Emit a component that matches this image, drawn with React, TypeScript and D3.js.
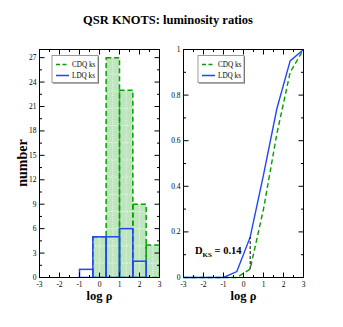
import React from "react";
import * as d3 from "d3";

const binEdges = [-3, -2.333, -1.667, -1, -0.333, 0.333, 1, 1.667, 2.333, 3];
const cdqCounts = [0, 0, 0, 0, 5, 27, 23, 9, 4];
const ldqCounts = [0, 0, 0, 1, 5, 5, 6, 2, 0];
const cdqCdf = [0, 0, 0, 0, 0, 0.037, 0.3, 0.63, 0.9, 1];
const ldqCdf = [0, 0, 0, 0, 0.026, 0.177, 0.45, 0.74, 0.95, 1];
const seriesNames = ["CDQ ks", "LDQ ks"];
const xTicks = [-3, -2, -1, 0, 1, 2, 3];
const countTicks = [0, 3, 6, 9, 12, 15, 18, 21, 24, 27];
const fracTicks = [0, 0.2, 0.4, 0.6, 0.8, 1];
// KS statistic as marked on the plot (x = 0.333)
const ksIndex = 5;
const ksLabel = "0.14";

const W = 343;
const H = 327;
const top = 49.5;
const bottom = 277.5;
const green = "#00a000";
const blue = "#2147f0";
const fillGreen = "#bfe5bf";
const serif = "'Liberation Serif', 'Times New Roman', serif";

type Panel = { x0: number; x1: number };
const leftP: Panel = { x0: 39.5, x1: 159.5 };
const rightP: Panel = { x0: 183.5, x1: 303.5 };

function Frame({ p, y, yTicks, yMinor, fmt }: any) {
  const x = d3.scaleLinear().domain([-3, 3]).range([p.x0, p.x1]);
  const xMinor = d3.range(-3, 3.01, 0.5);
  const els: any[] = [];
  xMinor.forEach((v, i) => {
    const major = Number.isInteger(v);
    const L = major ? 5 : 2.5;
    els.push(<line key={"xb" + i} x1={x(v)} x2={x(v)} y1={bottom} y2={bottom - L} stroke="#000" />);
    els.push(<line key={"xt" + i} x1={x(v)} x2={x(v)} y1={top} y2={top + L} stroke="#000" />);
  });
  yMinor.forEach((v: number, i: number) => {
    const major = yTicks.some((t: number) => Math.abs(t - v) < 1e-6);
    const L = major ? 5 : 2.5;
    els.push(<line key={"yl" + i} y1={y(v)} y2={y(v)} x1={p.x0} x2={p.x0 + L} stroke="#000" />);
    els.push(<line key={"yr" + i} y1={y(v)} y2={y(v)} x1={p.x1} x2={p.x1 - L} stroke="#000" />);
  });
  return (
    <g>
      <rect x={p.x0} y={top} width={p.x1 - p.x0} height={bottom - top} fill="none" stroke="#000" />
      {els}
      {xTicks.map((t) => (
        <text key={"xl" + t} x={x(t)} y={286.5} fontSize={7.5} fontFamily={serif} textAnchor="middle">
          {t}
        </text>
      ))}
      {yTicks.map((t: number) => (
        <text key={"ylab" + t} x={p.x0 - 3} y={y(t) + 2.5} fontSize={7.5} fontFamily={serif} textAnchor="end">
          {fmt(t)}
        </text>
      ))}
      <text x={(p.x0 + p.x1) / 2} y={300} fontSize={12.5} fontFamily={serif} fontWeight="bold" textAnchor="middle">
        log ρ
      </text>
    </g>
  );
}

function Legend({ x0, y0 }: { x0: number; y0: number }) {
  return (
    <g>
      <rect x={x0 + 1} y={y0 + 1} width={46} height={27} fill="#555" />
      <rect x={x0} y={y0} width={46} height={27} fill="#fff" stroke="#999" />
      <line x1={x0 + 4} x2={x0 + 17} y1={y0 + 9} y2={y0 + 9} stroke={green} strokeWidth={1.5} strokeDasharray="4,2.5" />
      <text x={x0 + 20} y={y0 + 11.5} fontSize={7.2} fontFamily={serif}>{seriesNames[0]}</text>
      <line x1={x0 + 4} x2={x0 + 17} y1={y0 + 20} y2={y0 + 20} stroke={blue} strokeWidth={1.5} />
      <text x={x0 + 20} y={y0 + 22.5} fontSize={7.2} fontFamily={serif}>{seriesNames[1]}</text>
    </g>
  );
}

export default function App() {
  const xL = d3.scaleLinear().domain([-3, 3]).range([leftP.x0, leftP.x1]);
  const xR = d3.scaleLinear().domain([-3, 3]).range([rightP.x0, rightP.x1]);
  const yC = d3.scaleLinear().domain([0, 28]).range([bottom, top]);
  const yF = d3.scaleLinear().domain([0, 1]).range([bottom, top]);

  const bins = cdqCounts.map((c, i) => ({ a: binEdges[i], b: binEdges[i + 1], c, l: ldqCounts[i] }));
  const patY = d3.range(bottom - 14.4, top, -17.2);

  const line = d3.line<[number, number]>().x((d) => xR(d[0])).y((d) => yF(d[1]));
  const cdqPts = binEdges.map((e, i) => [e, cdqCdf[i]] as [number, number]);
  const ldqPts = binEdges.map((e, i) => [e, ldqCdf[i]] as [number, number]);

  return (
    <svg width={W} height={H} style={{ position: "absolute", left: 0, top: 0, background: "#fff" }}>
      <text x={168} y={24} fontSize={12.5} fontFamily={serif} fontWeight="bold" textAnchor="middle">
        QSR KNOTS: luminosity ratios
      </text>
      <defs>
        <clipPath id="lclip">
          <rect x={leftP.x0} y={top} width={leftP.x1 - leftP.x0} height={bottom - top} />
        </clipPath>
      </defs>
      {/* histogram */}
      <g clipPath="url(#lclip)">
        {bins.filter((d) => d.c > 0).map((d, i) => (
          <g key={"f" + i}>
            <rect x={xL(d.a)} y={yC(d.c)} width={xL(d.b) - xL(d.a)} height={bottom - yC(d.c)} fill={fillGreen} />
            <line x1={(xL(d.a) + xL(d.b)) / 2} x2={(xL(d.a) + xL(d.b)) / 2} y1={yC(d.c)} y2={bottom} stroke="#fff" strokeWidth={0.8} strokeDasharray="1,1.5" />
            {patY.filter((py) => py > yC(d.c) + 1).map((py, j) => (
              <line key={j} x1={xL(d.a)} x2={xL(d.b)} y1={py} y2={py} stroke="#fff" strokeWidth={0.8} strokeDasharray="1,1.5" />
            ))}
          </g>
        ))}
        {bins.map((d, i) => (
          <rect key={"g" + i} x={xL(d.a)} y={yC(d.c)} width={xL(d.b) - xL(d.a)} height={bottom - yC(d.c)} fill="none" stroke={green} strokeWidth={1.5} strokeDasharray="5,3" />
        ))}
        {bins.map((d, i) => (
          <rect key={"b" + i} x={xL(d.a)} y={yC(d.l)} width={xL(d.b) - xL(d.a)} height={bottom - yC(d.l)} fill="none" stroke={blue} strokeWidth={1.5} />
        ))}
      </g>
      <Frame p={leftP} y={yC} yTicks={countTicks} yMinor={d3.range(0, 28.01, 1.5)} fmt={(t: number) => String(t)} />
      <text transform={`translate(27,163) rotate(-90)`} fontSize={14} fontFamily={serif} fontWeight="bold" textAnchor="middle">
        number
      </text>
      <Legend x0={52} y0={55.5} />

      {/* CDF */}
      <path d={line(cdqPts) || ""} fill="none" stroke={green} strokeWidth={1.4} strokeDasharray="5,3" />
      <path d={line(ldqPts) || ""} fill="none" stroke={blue} strokeWidth={1.4} />
      <line x1={xR(binEdges[ksIndex])} x2={xR(binEdges[ksIndex])} y1={yF(cdqCdf[ksIndex])} y2={yF(ldqCdf[ksIndex])} stroke="#000" strokeWidth={1} strokeDasharray="3,2" />
      <text x={195} y={254} fontFamily={serif} fontWeight="bold" fontSize={10.5}>
        D<tspan fontSize={7} dy={3}>KS</tspan>
        <tspan dy={-3}> = {ksLabel}</tspan>
      </text>
      <Frame p={rightP} y={yF} yTicks={fracTicks} yMinor={d3.range(0, 1.001, 0.1)} fmt={(t: number) => String(t)} />
      <Legend x0={198} y0={55.5} />
    </svg>
  );
}
